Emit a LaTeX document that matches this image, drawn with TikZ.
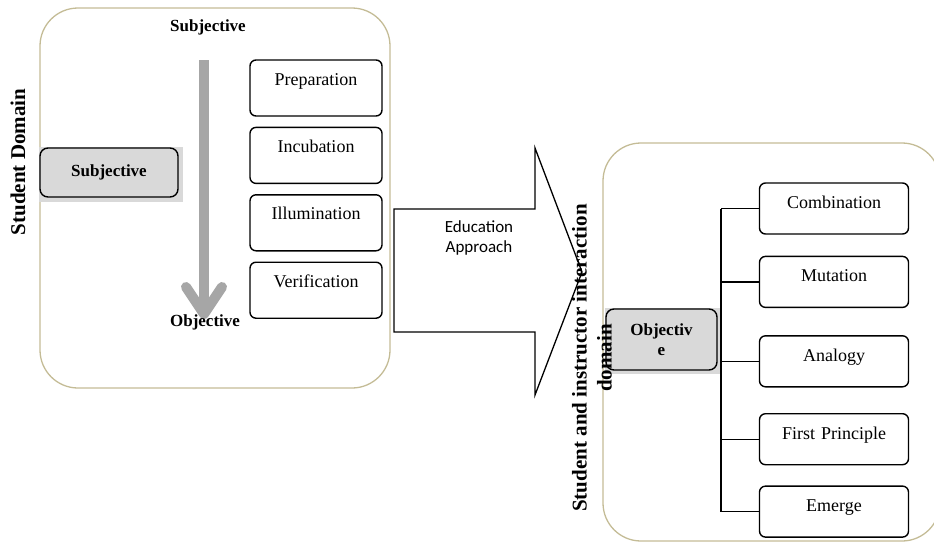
\documentclass[tikz,border=0pt]{standalone}
\usepackage{fontspec}
\setmainfont{Liberation Serif}
\newfontfamily\calibrifont{Carlito}
\usepackage{tikz}
\usetikzlibrary{positioning, backgrounds}
\definecolor{domaintan}{RGB}{196, 188, 150}
\definecolor{levelgray}{RGB}{166, 166, 166}
\definecolor{boxgray}{RGB}{217, 217, 217}

\begin{document}
\begin{tikzpicture}[
    x=1pt, y=-1pt,
    node distance=10pt,
    domainframe/.style={draw=domaintan, line width=1.3pt, rounded corners=38pt},
    stagebox/.style={draw, line width=1.4pt, rounded corners=6pt, inner sep=0pt, align=center, font=\fontsize{18}{21}\selectfont},
    leftstage/.style={stagebox, text width=132pt, text height=25pt, text depth=31pt},
    rightstage/.style={stagebox, text width=149pt, text height=25.5pt, text depth=25.5pt},
    levelbox/.style={draw, fill=boxgray, line width=1.4pt, rounded corners=8pt, align=center, font=\fontsize{17}{20}\selectfont\bfseries},
    sidelabel/.style={rotate=90, align=center, font=\fontsize{21}{25}\selectfont\bfseries},
    endlabel/.style={font=\fontsize{17}{20}\selectfont\bfseries},
    link/.style={line width=1.3pt},
    levelarrow/.style={levelgray, line width=10pt}
  ]
  \useasboundingbox (0,0) rectangle (934,542);

  % student domain
  \node[sidelabel] (studdom) at (18,162) {Student Domain};
  \node[endlabel] (subjtop) at (208,27) {Subjective};
  \node[levelbox, minimum width=138pt, minimum height=49pt] (subjbox) at (109,172.5) {Subjective};

  \node[leftstage] (prep) at (316,88) {Preparation};
  \node[leftstage, below=of prep] (incub) {Incubation};
  \node[leftstage, below=of incub] (illum) {Illumination};
  \node[leftstage, below=of illum] (verif) {Verification};

  \draw[levelarrow] (204,60) -- (204,312);
  \draw[levelarrow, line cap=round, line join=round] (186,287) -- (204,314) -- (222,287);
  \node[endlabel] (objbot) at (205,322) {Objective};

  % education approach arrow
  \draw[link] (394,209) -- (535,209) -- (535,148) -- (582,272) -- (535,395) -- (535,332) -- (394,332) -- cycle;
  \node[font=\calibrifont\fontsize{17}{20}\selectfont, align=center] (eduappr) at (479,238) {Education\\Approach};

  % interaction domain
  \node[levelbox, minimum width=111pt, minimum height=61pt] (objbox) at (661.5,339.5) {Objectiv\\e};

  \node[rightstage] (combo) at (834,208.5) {Combination};
  \node[rightstage, below=21pt of combo] (mutat) {Mutation};
  \node[rightstage, below=27pt of mutat] (analog) {Analogy};
  \node[rightstage, below=25.5pt of analog] (firstp) {First Principle};
  \node[rightstage, below=20pt of firstp] (emerge) {Emerge};

  \coordinate (spine) at (721,0);
  \draw[link] (combo.west -| spine) -- (emerge.west -| spine);
  \foreach \s in {combo, mutat, analog, firstp, emerge}
    \draw[link] (\s.west) -- (\s.west -| spine);

  \node[sidelabel] (interdom) at (592,358) {Student and instructor interaction\\domain};

  \begin{scope}[on background layer]
    \draw[domainframe] (40,8) rectangle (390,388);
    \draw[domainframe] (603,143) rectangle (940,541);
    \fill[boxgray] (subjbox.north west) rectangle ([shift={(4pt,-4pt)}]subjbox.south east);
    \fill[boxgray] (objbox.north west) rectangle ([shift={(3pt,-3pt)}]objbox.south east);
  \end{scope}
\end{tikzpicture}
\end{document}
